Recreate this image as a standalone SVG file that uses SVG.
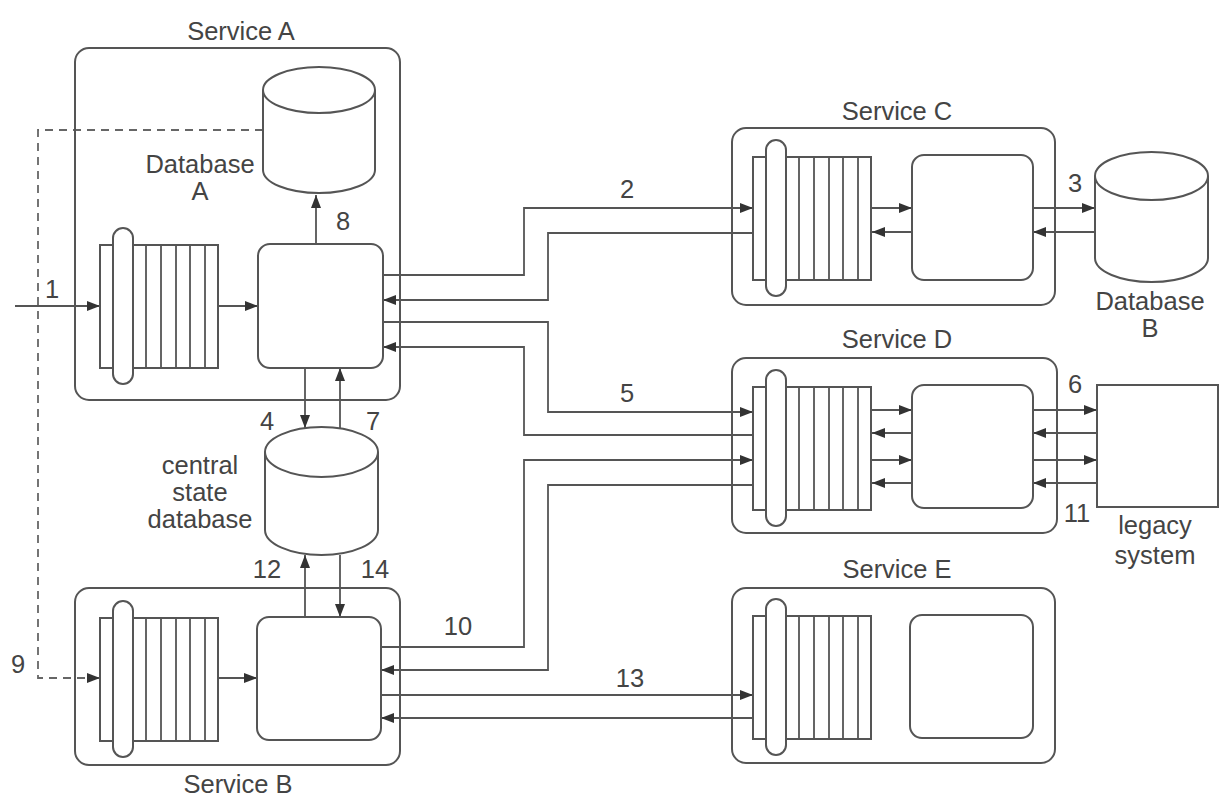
<svg xmlns="http://www.w3.org/2000/svg" width="1224" height="807" viewBox="0 0 1224 807">
<style>
.box{fill:none;stroke:#555;stroke-width:2}
.proc{fill:#fff;stroke:#555;stroke-width:2}
.db{fill:#fff;stroke:#555;stroke-width:2}
.ln{fill:none;stroke:#555;stroke-width:1.8}
.arr{fill:none;stroke:#555;stroke-width:1.8;marker-end:url(#ah)}
.dash{fill:none;stroke:#666;stroke-width:1.8;stroke-dasharray:8 6;marker-end:url(#ah)}
text{font-family:"Liberation Sans",Arial,sans-serif;font-size:25.5px;fill:#444;text-anchor:middle}
</style>
<defs>
<marker id="ah" markerUnits="userSpaceOnUse" markerWidth="13" markerHeight="10" viewBox="0 0 13 10" refX="13" refY="5" orient="auto">
<path d="M0,0 L13,5 L0,10 Z" fill="#333"/>
</marker>
<g id="queue">
<rect x="0" y="0" width="118" height="123" fill="#fff" stroke="#555" stroke-width="2"/>
<path d="M46,0V123M61,0V123M76,0V123M90,0V123M105,0V123" stroke="#555" stroke-width="1.8"/>
<rect x="13" y="-17" width="20" height="156" rx="10" fill="#fff" stroke="#555" stroke-width="2"/>
</g>
</defs>
<rect width="1224" height="807" fill="#fff"/>

<g id="connectors">
<path class="arr" d="M15,306H100"/>
<path class="arr" d="M218,306H258"/>
<path class="arr" d="M316,244V195"/>
<path class="arr" d="M305,368V428"/>
<path class="arr" d="M340,428V368"/>
<path class="arr" d="M305,617V555"/>
<path class="arr" d="M340,555V617"/>
<path class="arr" d="M217,678H257"/>
<path class="dash" d="M263,130H38V678H100"/>
<path class="arr" d="M383,275H524V208H753"/>
<path class="arr" d="M753,233H548V300H383"/>
<path class="arr" d="M383,322H548V412H753"/>
<path class="arr" d="M753,435H524V347H383"/>
<path class="arr" d="M381,647H524V460H753"/>
<path class="arr" d="M753,485H548V670H381"/>
<path class="arr" d="M381,695H753"/>
<path class="arr" d="M753,718H381"/>
<path class="arr" d="M872,208H912"/>
<path class="arr" d="M912,232H872"/>
<path class="arr" d="M1033,208H1095"/>
<path class="arr" d="M1095,232H1033"/>
<path class="arr" d="M872,410H912"/>
<path class="arr" d="M912,433H872"/>
<path class="arr" d="M872,460H912"/>
<path class="arr" d="M912,483H872"/>
<path class="arr" d="M1033,410H1097"/>
<path class="arr" d="M1097,433H1033"/>
<path class="arr" d="M1033,460H1097"/>
<path class="arr" d="M1097,483H1033"/>
</g>

<g id="serviceA">
<rect class="box" x="75" y="48" width="325" height="352" rx="14"/>
<text x="241" y="40">Service A</text>
</g>
<g id="databaseA">
<path class="db" d="M263,90V170A56,23 0 0 0 375,170V90"/>
<ellipse class="db" cx="319" cy="90" rx="56" ry="23"/>
<text x="200" y="173">Database</text>
<text x="200" y="200">A</text>
</g>
<g id="queueA"><use href="#queue" x="100" y="245"/></g>
<g id="processorA"><rect class="proc" x="258" y="244" width="125" height="124" rx="12"/></g>

<g id="centralDB">
<path class="db" d="M265,452V530A56.5,25 0 0 0 378,530V452"/>
<ellipse class="db" cx="321.5" cy="452" rx="56.5" ry="25"/>
<text x="200" y="474">central</text>
<text x="200" y="501">state</text>
<text x="200" y="528">database</text>
</g>

<g id="serviceB">
<rect class="box" x="75" y="588" width="325" height="177" rx="14"/>
<text x="238" y="793">Service B</text>
</g>
<g id="queueB"><use href="#queue" x="100" y="618"/></g>
<g id="processorB"><rect class="proc" x="257" y="617" width="124" height="123" rx="12"/></g>

<g id="serviceC">
<rect class="box" x="732" y="128" width="323" height="177" rx="14"/>
<text x="897" y="120">Service C</text>
</g>
<g id="queueC"><use href="#queue" x="753" y="157"/></g>
<g id="processorC"><rect class="proc" x="912" y="155" width="121" height="125" rx="12"/></g>
<g id="databaseB">
<path class="db" d="M1095,176V258A56.5,24 0 0 0 1208,258V176"/>
<ellipse class="db" cx="1151.5" cy="176" rx="56.5" ry="24"/>
<text x="1150" y="310">Database</text>
<text x="1150" y="337">B</text>
</g>

<g id="serviceD">
<rect class="box" x="732" y="358" width="325" height="175" rx="14"/>
<text x="897" y="348">Service D</text>
</g>
<g id="queueD"><use href="#queue" x="753" y="387"/></g>
<g id="processorD"><rect class="proc" x="912" y="385" width="121" height="123" rx="12"/></g>
<g id="legacy">
<rect class="proc" x="1097" y="385" width="121" height="122"/>
<text x="1155" y="534">legacy</text>
<text x="1155" y="564">system</text>
</g>

<g id="serviceE">
<rect class="box" x="732" y="588" width="323" height="175" rx="14"/>
<text x="897" y="578">Service E</text>
</g>
<g id="queueE"><use href="#queue" x="753" y="616"/></g>
<g id="processorE"><rect class="proc" x="910" y="615" width="123" height="123" rx="12"/></g>

<g id="labels">
<text x="52" y="298">1</text>
<text x="627" y="198">2</text>
<text x="1075" y="192">3</text>
<text x="267" y="430">4</text>
<text x="627" y="402">5</text>
<text x="1075" y="393">6</text>
<text x="373" y="430">7</text>
<text x="343" y="230">8</text>
<text x="18" y="673">9</text>
<text x="458" y="635">10</text>
<text x="1077" y="522">11</text>
<text x="267" y="578">12</text>
<text x="630" y="687">13</text>
<text x="375" y="578">14</text>
</g>
</svg>
